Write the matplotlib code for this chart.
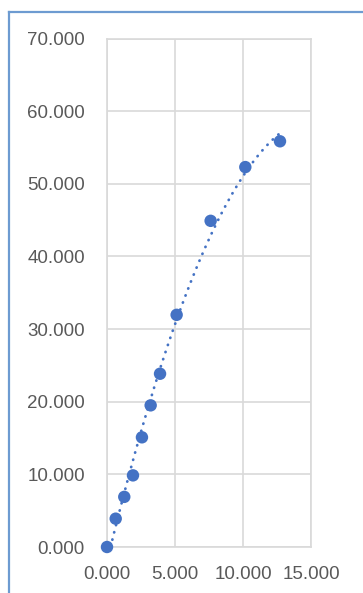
import numpy as np
import matplotlib
matplotlib.use("Agg")
import matplotlib.pyplot as plt
from matplotlib.lines import Line2D

# Datos
x_vals = [0.0, 0.64, 1.27, 1.91, 2.57, 3.21, 3.90, 5.12, 7.62, 10.17, 12.72]
y_vals = [0.0, 3.9, 6.9, 9.86, 15.1, 19.5, 23.85, 31.96, 44.9, 52.3, 55.85]
x_ticks = [0, 5, 10, 15]
y_ticks = [0, 10, 20, 30, 40, 50, 60, 70]

azul = "#4472C4"
gris_txt = "#595959"
gris_grid = "#D9D9D9"

plt.rcParams['font.family'] = ['Liberation Sans', 'DejaVu Sans']

fig = plt.figure(figsize=(3.63, 5.93), dpi=100)
ax = fig.add_axes([107 / 363, 46 / 593, 204 / 363, 508.5 / 593])

# Línea de tendencia polinómica (orden 2)
coef = np.polyfit(x_vals, y_vals, 2)
xt = np.linspace(min(x_vals), max(x_vals), 200)
ax.plot(xt, np.polyval(coef, xt), color=azul, lw=2.0,
        linestyle=(0, (0.1, 2.6)), dash_capstyle='round', zorder=2)

ax.scatter(x_vals, y_vals, s=80, color=azul, edgecolor='none', zorder=3, clip_on=False)

ax.set_xlim(0, 15)
ax.set_ylim(0, 70)
ax.set_xticks(x_ticks)
ax.set_yticks(y_ticks)
ax.set_xticklabels([f"{v:.3f}" for v in x_ticks])
ax.set_yticklabels([f"{v:.3f}" for v in y_ticks])
ax.tick_params(length=0, labelsize=13.5, colors=gris_txt)
ax.tick_params(axis='x', pad=14)
ax.tick_params(axis='y', pad=16)
ax.grid(True, color=gris_grid, lw=1.2)
ax.set_axisbelow(True)
for s in ax.spines.values():
    s.set_color(gris_grid)
    s.set_linewidth(1.2)

# Marco azul del gráfico
borde = "#6D9BD1"
fig.add_artist(Line2D([9 / 363, 9 / 363], [0, 1 - 12 / 593], color=borde, lw=1.6,
                      transform=fig.transFigure))
fig.add_artist(Line2D([9 / 363, 1], [1 - 12 / 593, 1 - 12 / 593], color=borde, lw=1.6,
                      transform=fig.transFigure))

fig.savefig("out.png", dpi=100)
